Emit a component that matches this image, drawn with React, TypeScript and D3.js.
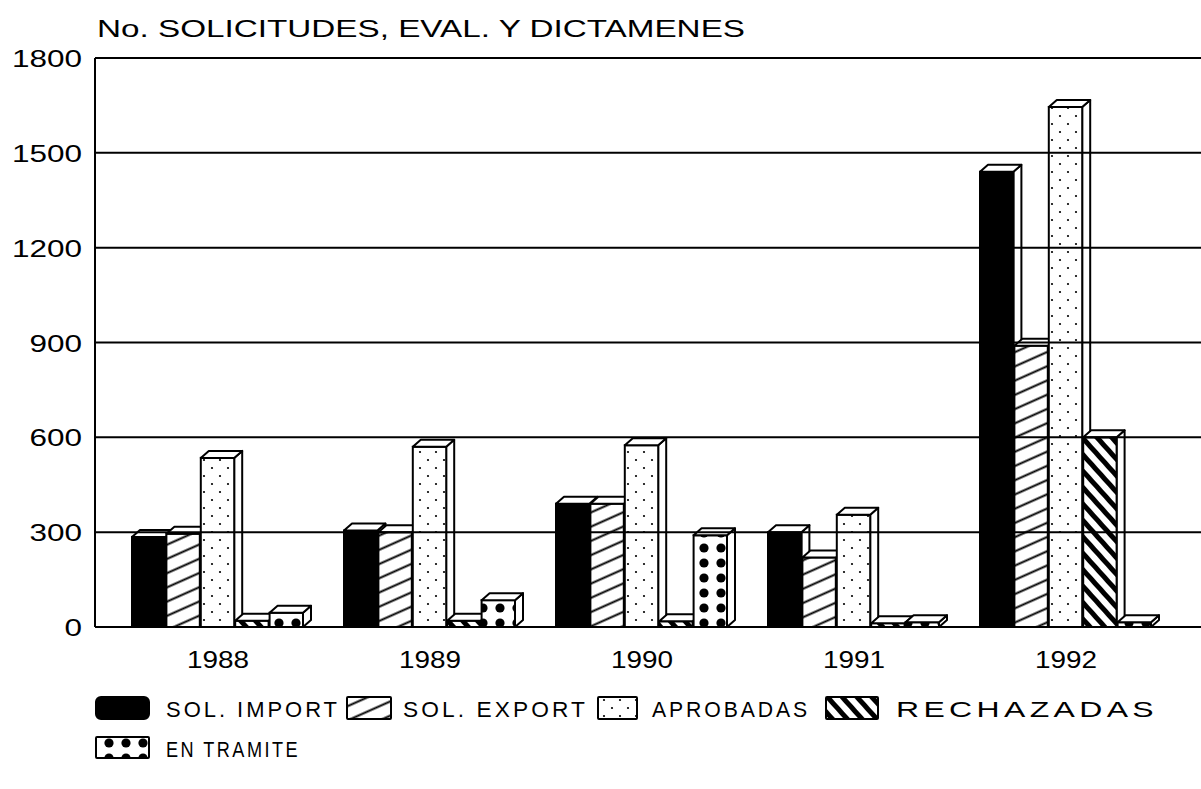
import React from 'react';
import * as d3 from 'd3';

// years on the x axis
const years = ['1988', '1989', '1990', '1991', '1992'];

// series
const seriesNames = ['SOL. IMPORT', 'SOL. EXPORT', 'APROBADAS', 'RECHAZADAS', 'EN TRAMITE'];
const solImport = [285, 305, 390, 300, 1440];
const solExport = [295, 300, 390, 220, 890];
const aprobadas = [535, 570, 575, 355, 1645];
const rechazadas = [20, 20, 18, 12, 600];
const enTramite = [45, 85, 290, 15, 15];

const yTicks = [0, 300, 600, 900, 1200, 1500, 1800];

const W = 1201;
const H = 789;
const axisX = 95;
const yTop = 58;
const yBase = 627;
const DX = 8;
const DY = 7;
const font = '"Liberation Sans", Arial, sans-serif';

const fills = ['#000', 'url(#hatchExp)', 'url(#dotsAprob)', 'url(#hatchRech)', 'url(#dotsTram)'];

// legend layout: swatch x/width, text x/width
const legendRow1 = [
  { sx: 96, sw: 53, tx: 166, tw: 174 },
  { sx: 347, sw: 44, tx: 403, tw: 185 },
  { sx: 598, sw: 39, tx: 652, tw: 158 },
  { sx: 826, sw: 52, tx: 896, tw: 262 },
];

export default function App() {
  const values = [solImport, solExport, aprobadas, rechazadas, enTramite];

  const y = d3.scaleLinear().domain([0, 1800]).range([yBase, yTop]);
  const x = d3.scaleBand().domain(years).range([112, 112 + 212 * years.length]).padding(0);
  const inner = d3.scaleBand().domain(seriesNames).range([-86, 86]).padding(0);

  const bars: JSX.Element[] = [];
  years.forEach((yr, yi) => {
    const cx = (x(yr) as number) + x.bandwidth() / 2;
    seriesNames.forEach((s, si) => {
      const v = values[si][yi];
      const x0 = cx + (inner(s) as number);
      const w = inner.bandwidth() - 1;
      const yt = y(v);
      const top = `${x0},${yt} ${x0 + DX},${yt - DY} ${x0 + w + DX},${yt - DY} ${x0 + w},${yt}`;
      const side = `${x0 + w},${yt} ${x0 + w + DX},${yt - DY} ${x0 + w + DX},${yBase - DY} ${x0 + w},${yBase}`;
      bars.push(
        <g key={`${yr}-${s}`}>
          <polygon points={side} fill="#fff" stroke="#000" strokeWidth={2} strokeLinejoin="round" />
          <rect x={x0} y={yt} width={w} height={yBase - yt} fill={fills[si]} stroke="#000" strokeWidth={2} />
          <polygon points={top} fill="#fff" stroke="#000" strokeWidth={2} strokeLinejoin="round" />
        </g>
      );
    });
  });

  return (
    <svg width={W} height={H} style={{ position: 'absolute', left: 0, top: 0, background: '#fff' }}>
      <defs>
        <pattern id="hatchExp" patternUnits="userSpaceOnUse" width="12" height="13" patternTransform="rotate(-24)">
          <rect width="12" height="13" fill="#fff" />
          <line x1="0" y1="6.5" x2="12" y2="6.5" stroke="#000" strokeWidth="2" />
        </pattern>
        <pattern id="hatchRech" patternUnits="userSpaceOnUse" width="10" height="11" patternTransform="rotate(48)">
          <rect width="10" height="11" fill="#fff" />
          <line x1="0" y1="5.5" x2="10" y2="5.5" stroke="#000" strokeWidth="5" />
        </pattern>
        <pattern id="dotsAprob" patternUnits="userSpaceOnUse" width="16" height="16">
          <rect width="16" height="16" fill="#fff" />
          <circle cx="4" cy="4" r="1.1" fill="#000" />
          <circle cx="12" cy="12" r="1.1" fill="#000" />
        </pattern>
        <pattern id="dotsTram" patternUnits="userSpaceOnUse" width="17" height="15">
          <rect width="17" height="15" fill="#fff" />
          <circle cx="7" cy="8" r="4.6" fill="#000" />
        </pattern>
      </defs>

      <text x={97} y={37} fontFamily={font} fontSize={23} textLength={648} lengthAdjust="spacingAndGlyphs">
        No. SOLICITUDES, EVAL. Y DICTAMENES
      </text>

      {bars}

      {yTicks.map((t) => (
        <g key={t}>
          <line x1={axisX} x2={W} y1={y(t)} y2={y(t)} stroke="#000" strokeWidth={2} />
          <text
            x={82}
            y={y(t) + 9}
            fontFamily={font}
            fontSize={23}
            textAnchor="end"
            textLength={17.5 * String(t).length}
            lengthAdjust="spacingAndGlyphs"
          >
            {t}
          </text>
        </g>
      ))}
      <line x1={axisX} x2={axisX} y1={yTop} y2={yBase} stroke="#000" strokeWidth={2} />

      {years.map((yr) => (
        <text
          key={yr}
          x={(x(yr) as number) + x.bandwidth() / 2}
          y={668}
          fontFamily={font}
          fontSize={23}
          textAnchor="middle"
          textLength={62}
          lengthAdjust="spacingAndGlyphs"
        >
          {yr}
        </text>
      ))}

      {legendRow1.map((p, i) => (
        <g key={seriesNames[i]}>
          <rect
            x={p.sx}
            y={697}
            width={p.sw}
            height={22}
            rx={i === 0 ? 5 : 1}
            fill={fills[i]}
            stroke="#000"
            strokeWidth={2}
          />
          <text
            x={p.tx}
            y={717}
            fontFamily={font}
            fontSize={22}
            letterSpacing={3}
            textLength={p.tw}
            lengthAdjust="spacingAndGlyphs"
          >
            {seriesNames[i]}
          </text>
        </g>
      ))}
      <rect x={96} y={737} width={53} height={21} rx={1} fill={fills[4]} stroke="#000" strokeWidth={2} />
      <text x={166} y={757} fontFamily={font} fontSize={22} letterSpacing={3} textLength={134} lengthAdjust="spacingAndGlyphs">
        {seriesNames[4]}
      </text>
    </svg>
  );
}
